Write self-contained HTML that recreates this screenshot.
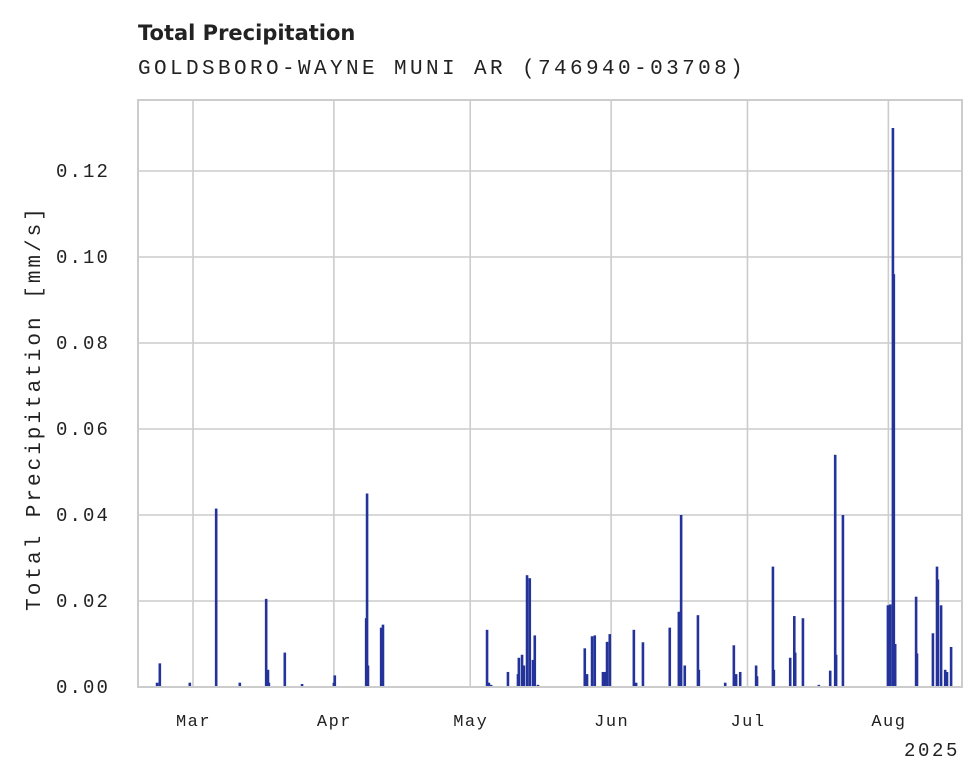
<!DOCTYPE html>
<html><head><meta charset="utf-8"><style>
html,body{margin:0;padding:0;background:#fff;}
svg{display:block;}
</style></head><body>
<svg id="chart" width="980" height="783" xmlns="http://www.w3.org/2000/svg">
<text x="138" y="40" font-family="DejaVu Sans, sans-serif" font-weight="bold" font-size="21" fill="#222">Total Precipitation</text>
<text x="138" y="74" font-family="Liberation Mono, monospace" font-size="21" letter-spacing="3.4" fill="#222">GOLDSBORO-WAYNE MUNI AR (746940-03708)</text>
<g id="grid"></g>
<g id="bars"></g>
<rect x="138" y="100" width="824" height="587" fill="none" stroke="#cccccc" stroke-width="2"/>
<g id="yticks"></g>
<g id="xticks"></g>
<text x="904" y="756" font-family="Liberation Mono, monospace" font-size="19" letter-spacing="2.6" fill="#222">2025</text>
<text transform="translate(40,408) rotate(-90)" text-anchor="middle" font-family="Liberation Mono, monospace" font-size="21" letter-spacing="3" fill="#222">Total Precipitation [mm/s]</text>
</svg>
<script>
const dayOffsets = [-7.9,-7.3,-0.7,5.1,10.3,16.1,16.5,16.7,20.2,24.0,31.0,31.2,38.1,38.3,38.5,41.4,41.8,
64.7,65.1,65.6,69.3,71.5,71.7,72.4,72.8,73.5,74.1,74.8,75.2,75.9,
86.2,86.7,87.8,88.4,90.2,90.6,91.1,91.7,97.0,97.5,99.0,104.9,106.9,107.4,108.2,111.1,111.3,117.1,
119.0,119.5,120.4,123.9,124.1,127.6,127.8,131.4,132.3,132.5,134.2,137.7,140.2,141.3,141.5,143.0,
152.9,153.4,154.0,154.2,154.5,159.1,159.3,162.8,163.7,163.9,164.6,165.5,165.9,166.8];
const precipValues = [0.001,0.0055,0.001,0.0415,0.001,0.0205,0.004,0.001,0.008,0.0007,0.001,0.0027,0.016,0.045,0.005,0.0138,0.0145,
0.0133,0.001,0.0005,0.0035,0.003,0.0068,0.0075,0.005,0.026,0.0253,0.0063,0.012,0.0005,
0.009,0.003,0.0118,0.012,0.0035,0.0035,0.0105,0.0123,0.0133,0.001,0.0104,0.0138,0.0175,0.040,0.005,0.0167,0.004,0.001,
0.0097,0.003,0.0035,0.005,0.0025,0.028,0.004,0.0068,0.0165,0.008,0.016,0.0005,0.0038,0.054,0.0075,0.040,
0.019,0.0192,0.13,0.096,0.01,0.021,0.0078,0.0125,0.028,0.025,0.019,0.004,0.0035,0.0093];
const yTicks = [0,0.02,0.04,0.06,0.08,0.10,0.12];
const monthLabels = ["Mar","Apr","May","Jun","Jul","Aug"];
const monthOffsets = [0,31,61,92,122,153];

const NS="http://www.w3.org/2000/svg";
const X0=138,X1=962,Y0=687,Y1=100;
const dMin=-12.1,dMax=169.2,vMax=(Y0-Y1)/4300;
function xs(d){return X0+(d-dMin)/(dMax-dMin)*(X1-X0);}
function ys(v){return Y0-v/vMax*(Y0-Y1);}
function mk(tag,attrs,parent){const e=document.createElementNS(NS,tag);for(const k in attrs)e.setAttribute(k,attrs[k]);parent.appendChild(e);return e;}
const grid=document.getElementById('grid'),bars=document.getElementById('bars'),yt=document.getElementById('yticks'),xt=document.getElementById('xticks');
yTicks.forEach((v,i)=>{
  const y=ys(v);
  if(i>0){const l=mk('line',{x1:X0,x2:X1,y1:y,y2:y,stroke:'#cccccc','stroke-width':1.6},grid);
  
  }
  const t=mk('text',{x:56,y:y+6,'font-family':'Liberation Mono, monospace','font-size':19,'letter-spacing':2.1,fill:'#222'},yt);
  t.textContent=v.toFixed(2);
  
  
});
monthOffsets.forEach((d,i)=>{
  const x=xs(d);
  const l=mk('line',{x1:x,x2:x,y1:Y1,y2:Y0,stroke:'#cccccc','stroke-width':1.6},grid);
  
  
  const t=mk('text',{x:x-17,y:726,'font-family':'Liberation Mono, monospace','font-size':17,'letter-spacing':1.5,fill:'#222'},xt);
  t.textContent=monthLabels[i];
  
  
});
dayOffsets.forEach((d,i)=>{
  const x=xs(d),y=ys(precipValues[i]);
  const r=mk('rect',{x:x-1.3,y:y,width:2.6,height:Math.max(0.5,Y0-y),fill:'#24339a'},bars);
  
  
});
</script>
</body></html>
